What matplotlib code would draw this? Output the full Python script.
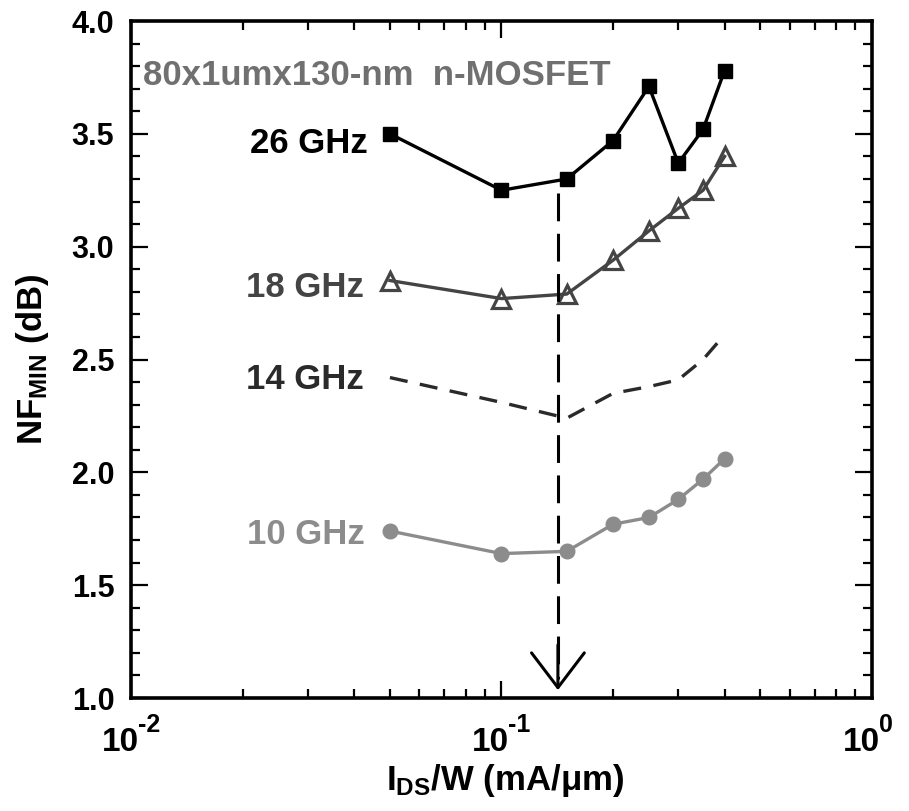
import numpy as np
import matplotlib
matplotlib.use("Agg")
import matplotlib.pyplot as plt
from matplotlib.ticker import MultipleLocator, LogLocator, FixedLocator, FixedFormatter, NullFormatter

# --- Data ---------------------------------------------------------------------
ids_w = [0.05, 0.10, 0.15, 0.20, 0.25, 0.30, 0.35, 0.40]   # mA/um

nf_26ghz = [3.50, 3.25, 3.30, 3.47, 3.71, 3.37, 3.52, 3.78]
nf_18ghz = [2.85, 2.77, 2.79, 2.94, 3.07, 3.17, 3.25, 3.40]
nf_14ghz = [2.42, 2.31, 2.24, 2.35, 2.38, 2.41, 2.50, 2.61]
nf_10ghz = [1.74, 1.64, 1.65, 1.77, 1.80, 1.88, 1.97, 2.06]

freq_labels = ["26 GHz", "18 GHz", "14 GHz", "10 GHz"]
device_label = "80x1umx130-nm  n-MOSFET"

# optimum current density marker (vertical dashed arrow)
j_opt = 0.142
arrow_top = 3.24
arrow_tip = 1.035

x_ticks = [0.01, 0.1, 1.0]
x_tick_base = ["10", "10", "10"]
x_tick_exp = ["-2", "-1", "0"]
y_ticks = [1.0, 1.5, 2.0, 2.5, 3.0, 3.5, 4.0]
y_ticklabels = ["1.0", "1.5", "2.0", "2.5", "3.0", "3.5", "4.0"]

# --- Style --------------------------------------------------------------------
plt.rcParams["font.family"] = ["Liberation Sans", "DejaVu Sans"]
plt.rcParams["font.weight"] = "bold"
plt.rcParams["mathtext.fontset"] = "custom"
plt.rcParams["mathtext.rm"] = "Liberation Sans:bold"
plt.rcParams["mathtext.it"] = "Liberation Sans:bold"
plt.rcParams["mathtext.bf"] = "Liberation Sans:bold"
plt.rcParams["mathtext.sf"] = "Liberation Sans:bold"
plt.rcParams["lines.scale_dashes"] = False

c26 = "#000000"
c18 = "#444444"
c14 = "#2a2a2a"
c10 = "#8c8c8c"
c_dev = "#707070"

fig = plt.figure(figsize=(9.09, 8.11), dpi=100)
ax = fig.add_axes([0.1441, 0.1393, 0.8152, 0.8348])

# --- Curves -------------------------------------------------------------------
ax.plot(ids_w, nf_26ghz, color=c26, lw=2.4, marker="s", ms=10, zorder=4)
ax.plot(ids_w, nf_18ghz, color=c18, lw=2.4, marker="^", ms=13.5, mfc="none",
        mec=c18, mew=2.3, zorder=4)
ax.plot(ids_w, nf_14ghz, color=c14, lw=2.4, dashes=(13, 9), zorder=3)
ax.plot(ids_w, nf_10ghz, color=c10, lw=2.4, marker="o", ms=10.5, mec=c10, zorder=4)

# vertical dashed line + open arrow head
ax.plot([j_opt, j_opt], [arrow_top, arrow_tip + 0.05], color="black", lw=2.2,
        dashes=(20, 9), zorder=5)
ax.annotate("", xy=(j_opt, arrow_tip), xytext=(j_opt, arrow_tip + 0.2),
            arrowprops=dict(arrowstyle="->,head_length=1.25,head_width=0.95",
                            color="black", lw=2.2, mutation_scale=20,
                            shrinkA=0, shrinkB=0),
            zorder=5)

# --- Labels on curves ---------------------------------------------------------
label_fs = 25
curves = [(nf_26ghz, c26, (-16, -13.5)),
          (nf_18ghz, c18, (-19, -11.5)),
          (nf_14ghz, c14, (-19, -8)),
          (nf_10ghz, c10, (-18, -9.5))]
for (vals, col, off), lab in zip(curves, freq_labels):
    ax.annotate(lab, xy=(ids_w[0], vals[0]), xytext=off, textcoords="offset points",
                ha="right", va="baseline", fontsize=label_fs, fontweight="bold",
                color=col)

ax.text(0.016, 0.905, device_label, transform=ax.transAxes, ha="left",
        va="baseline", fontsize=label_fs, fontweight="bold", color=c_dev)

# --- Axes ---------------------------------------------------------------------
ax.set_xscale("log")
ax.set_xlim(0.01, 1.0)
ax.set_ylim(1.0, 4.0)

ax.xaxis.set_major_locator(FixedLocator(x_ticks))
ax.xaxis.set_major_formatter(NullFormatter())
ax.xaxis.set_minor_locator(LogLocator(base=10, subs=np.arange(2, 10)))
ax.xaxis.set_minor_formatter(NullFormatter())
ax.yaxis.set_major_locator(FixedLocator(y_ticks))
ax.yaxis.set_major_formatter(FixedFormatter(y_ticklabels))
ax.yaxis.set_minor_locator(MultipleLocator(0.1))

ax.tick_params(which="both", direction="in", top=True, right=True, width=1.6)
ax.tick_params(which="major", length=12.5)
ax.tick_params(which="minor", length=6.5)
ax.tick_params(axis="y", which="major", labelsize=22, pad=12)
for lab in ax.get_yticklabels():
    lab.set_fontweight("bold")

# x tick labels drawn as base + raised exponent (large superscript like the original)
xtrans = ax.get_xaxis_transform()
for xt, base, ex in zip(x_ticks, x_tick_base, x_tick_exp):
    ax.annotate(base, xy=(xt, 0), xycoords=xtrans, xytext=(5.5, -38.5),
                textcoords="offset points", ha="right", va="baseline",
                fontsize=24, fontweight="bold", annotation_clip=False)
    ax.annotate(ex, xy=(xt, 0), xycoords=xtrans, xytext=(5.0, -24.5),
                textcoords="offset points", ha="left", va="baseline",
                fontsize=18, fontweight="bold", annotation_clip=False)

for sp in ax.spines.values():
    sp.set_linewidth(2.6)

ax.set_xlabel("I$_{DS}$/W (mA/\u03bcm)", fontsize=25, fontweight="bold")
ax.set_ylabel("NF$_{MIN}$ (dB)", fontsize=25, fontweight="bold")
ax.xaxis.set_label_coords(0.505, -0.094)
ax.yaxis.set_label_coords(-0.108, 0.5)

fig.savefig("out.png", dpi=100)
